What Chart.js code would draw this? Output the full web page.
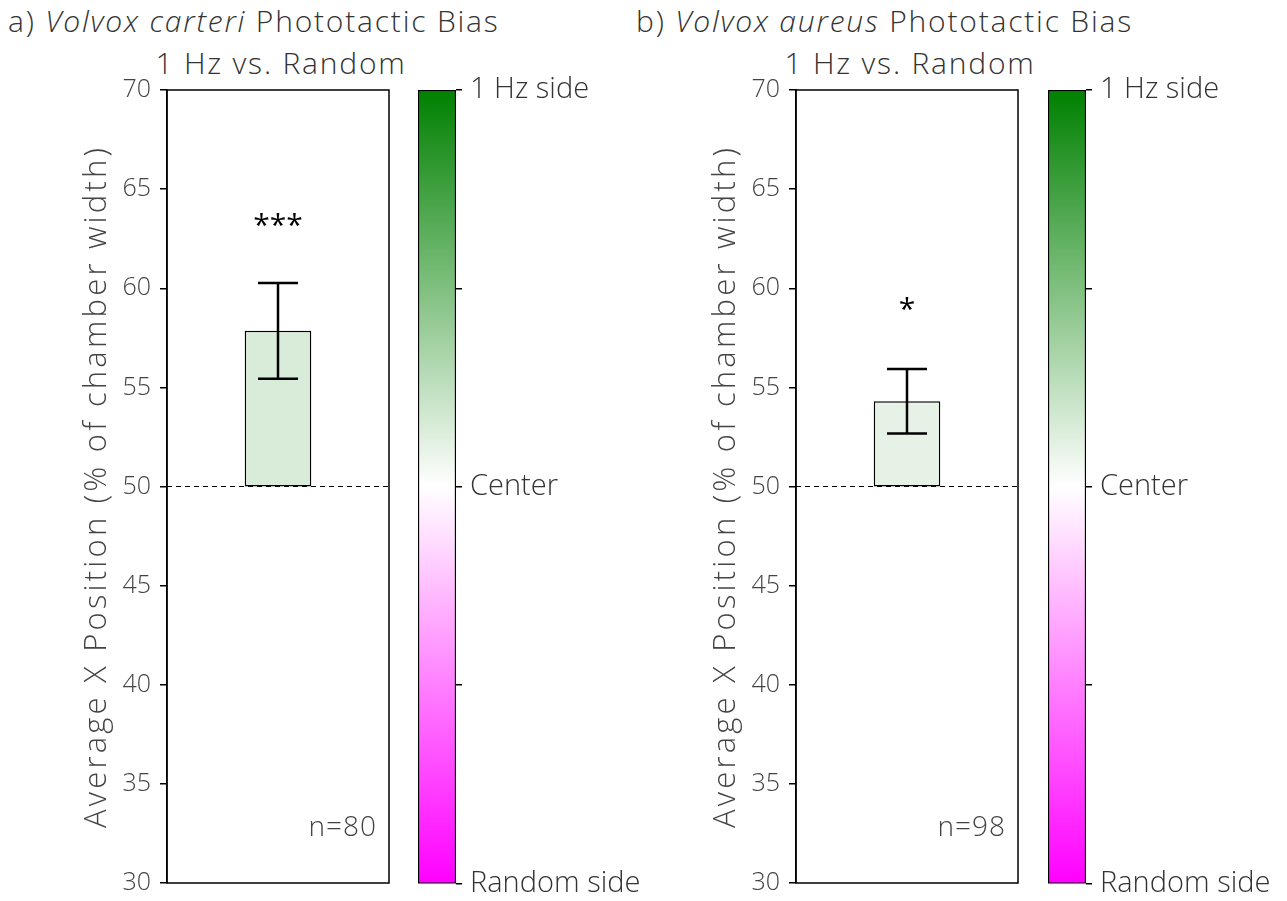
<!DOCTYPE html>
<html>
<head>
<meta charset="utf-8">
<script src="https://cdn.jsdelivr.net/npm/chart.js@4"></script>
<style>
  body { margin: 0; background: #fff; }
  #wrap { position: relative; width: 1287px; height: 901px; overflow: hidden; font-family: 'Open Sans', sans-serif; font-weight: 300; color: #333; }
  canvas { position: absolute; top: 0; }
  .ttl { position: absolute; font-size: 30px; line-height: 1; letter-spacing: 1.8px; white-space: nowrap; }
</style>
</head>
<body>
<div id="wrap">
  <div class="ttl" style="left:8px; top:6px;">a) <i>Volvox carteri</i> Phototactic Bias</div>
  <div class="ttl" style="left:281px; top:48px; transform: translateX(-50%);">1 Hz vs. Random</div>
  <div class="ttl" style="left:636px; top:6px;">b) <i>Volvox aureus</i> Phototactic Bias</div>
  <div class="ttl" style="left:910px; top:48px; transform: translateX(-50%);">1 Hz vs. Random</div>
  <canvas id="cbarA" width="260" height="909" style="left:400px"></canvas>
  <canvas id="mainA" width="400" height="907" style="left:0px"></canvas>
  <canvas id="mainB" width="400" height="907" style="left:629px"></canvas>
  <canvas id="cbarB" width="257" height="909" style="left:1030px"></canvas>
</div>
<script>
// data
const meanPos = [57.85, 54.3];      // average x position, %
const errPos = [2.42, 1.63];        // error bar half-length
const sigText = ['***', '*'];
const sigPos = [63.4, 59.2];        // where the stars sit
const sampleN = ['n=80', 'n=98'];
const centerLine = 50;
const yMin = 30, yMax = 70, yStep = 5;
const cbarTicks = [30, 40, 50, 60, 70];
const cbarLabels = ['Random side', '', 'Center', '', '1 Hz side'];
const barColors = ['#d9ebd9', '#e6f2e6'];
const yTitle = 'Average X Position (% of chamber width)';

Chart.defaults.font.family = "'Open Sans', sans-serif";
Chart.defaults.font.weight = '300';
Chart.defaults.color = '#444';

// frame, dashed center line, error bar, stars, n label and axis title
const panelDecor = {
  id: 'panelDecor',
  afterDatasetsDraw(chart, args, opts) {
    const { ctx, chartArea: a, scales } = chart;
    const y = scales.y;
    const i = opts.idx;
    ctx.save();
    // dashed line at 50
    ctx.strokeStyle = '#000';
    ctx.lineWidth = 1.2;
    ctx.setLineDash([5, 4]);
    const y50 = y.getPixelForValue(centerLine);
    ctx.beginPath(); ctx.moveTo(a.left, y50); ctx.lineTo(a.right, y50); ctx.stroke();
    ctx.setLineDash([]);
    // error bar
    const bx = chart.getDatasetMeta(0).data[0].x;
    const yt = y.getPixelForValue(meanPos[i] + errPos[i]);
    const yb = y.getPixelForValue(meanPos[i] - errPos[i]);
    ctx.lineWidth = 2.5;
    ctx.beginPath();
    ctx.moveTo(bx, yt); ctx.lineTo(bx, yb);
    ctx.moveTo(bx - 20, yt); ctx.lineTo(bx + 20, yt);
    ctx.moveTo(bx - 20, yb); ctx.lineTo(bx + 20, yb);
    ctx.stroke();
    // frame
    ctx.lineWidth = 1.5;
    ctx.strokeRect(a.left, a.top, a.right - a.left, a.bottom - a.top);
    // stars
    ctx.fillStyle = '#000';
    ctx.font = "400 30px 'Open Sans', sans-serif";
    ctx.textAlign = 'center';
    ctx.textBaseline = 'middle';
    ctx.fillText(sigText[i], bx, y.getPixelForValue(sigPos[i]) + 6);
    // n label
    ctx.fillStyle = '#444';
    ctx.font = "300 28px 'Open Sans', sans-serif";
    ctx.textAlign = 'right';
    ctx.letterSpacing = '1px';
    ctx.fillText(sampleN[i], a.right - 12, a.bottom - 55);
    // y axis title, drawn here for the wide letter spacing
    ctx.translate(97, (a.top + a.bottom) / 2);
    ctx.rotate(-Math.PI / 2);
    ctx.textAlign = 'center';
    ctx.font = "300 31px 'Open Sans', sans-serif";
    ctx.letterSpacing = '3.2px';
    ctx.fillText(yTitle, 0, 0);
    ctx.restore();
  }
};

function makePanel(id, i) {
  new Chart(document.getElementById(id), {
    type: 'bar',
    data: {
      labels: [''],
      datasets: [{
        data: [[centerLine, meanPos[i]]],
        backgroundColor: barColors[i],
        borderColor: '#000',
        borderWidth: 1.5,
        borderSkipped: false,
        barPercentage: 0.3,
        categoryPercentage: 1
      }]
    },
    options: {
      responsive: false,
      animation: false,
      layout: { padding: { top: 90, bottom: 18, right: 11, left: 0 } },
      plugins: { legend: { display: false }, tooltip: { enabled: false }, panelDecor: { idx: i } },
      scales: {
        x: { display: false },
        y: {
          min: yMin, max: yMax,
          afterFit(s) { s.width = 167; },
          ticks: { stepSize: yStep, padding: 9, color: '#444', font: { size: 25 } },
          grid: { drawOnChartArea: false, drawTicks: true, tickLength: 7, color: '#000', lineWidth: 1.5 },
          border: { display: true, color: '#000', width: 1.5 }
        }
      }
    },
    plugins: [panelDecor]
  });
}

function makeColorbar(id) {
  new Chart(document.getElementById(id), {
    type: 'bar',
    data: {
      labels: [''],
      datasets: [{
        data: [[yMin, yMax]],
        backgroundColor(c) {
          const a = c.chart.chartArea;
          if (!a) return '#fff';
          const g = c.chart.ctx.createLinearGradient(0, a.bottom, 0, a.top);
          g.addColorStop(0, '#ff00ff');
          g.addColorStop(0.5, '#ffffff');
          g.addColorStop(1, '#008000');
          return g;
        },
        borderColor: '#000',
        borderWidth: 1.5,
        borderSkipped: false,
        barPercentage: 1,
        categoryPercentage: 1
      }]
    },
    options: {
      responsive: false,
      animation: false,
      layout: { padding: { top: 90, bottom: 18, left: 18, right: 0 } },
      plugins: { legend: { display: false }, tooltip: { enabled: false } },
      scales: {
        x: { display: false },
        y: {
          position: 'right',
          min: yMin, max: yMax,
          afterFit(s) { s.width = s.chart.width - 56; },
          afterBuildTicks(s) { s.ticks = cbarTicks.map(v => ({ value: v })); },
          ticks: {
            padding: 8, color: '#333', font: { size: 29 },
            callback(v) { return cbarLabels[cbarTicks.indexOf(v)]; }
          },
          grid: { drawOnChartArea: false, drawTicks: true, tickLength: 6, color: '#000', lineWidth: 1.5 },
          border: { display: false }
        }
      }
    }
  });
}

makePanel('mainA', 0);
makePanel('mainB', 1);
makeColorbar('cbarA');
makeColorbar('cbarB');
</script>
</body>
</html>
